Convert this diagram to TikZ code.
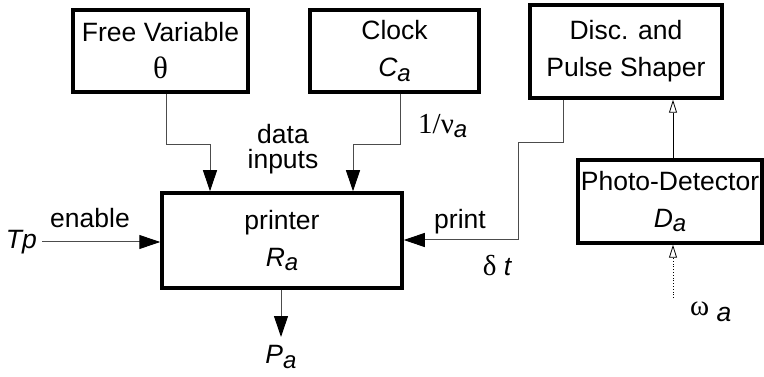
\documentclass[tikz,border=0pt]{standalone}
\usepackage{fontspec}
\setmainfont{Liberation Sans}
\newfontfamily\grk{Liberation Serif}
\usetikzlibrary{arrows.meta}
\newcommand\isub[2]{{\itshape #1\raisebox{-0.35ex}{\fontsize{24}{24}\selectfont #2}}}
\begin{document}
\begin{tikzpicture}[x=1pt,y=-1pt,
  box/.style={draw, line width=3.5pt, inner sep=0pt, align=center, font=\fontsize{26.5}{37}\selectfont},
  lbl/.style={inner sep=0pt, font=\fontsize{26.5}{30}\selectfont},
  conn/.style={draw=black!70, line width=1pt, -{Triangle[length=21pt,width=14pt,color=black]}},
  openarr/.style={draw=black, line width=0.8pt, -{Triangle[open,length=13pt,width=8pt]}}]
\useasboundingbox (0,0) rectangle (764,377);

\node[box, minimum width=175pt, minimum height=82pt] (fv) at (160.5,51) {Free Variable\\{\grk\fontsize{31}{37}\selectfont θ}};
\node[box, minimum width=169pt, minimum height=82pt] (clk) at (394.5,51) {Clock\\\isub{C}{a}};
\node[box, minimum width=192pt, minimum height=93pt] (disc) at (626,51.5) {Disc. and\\Pulse Shaper};
\node[box, minimum width=184pt, minimum height=83pt] (pd) at (670,201.5) {Photo-Detector\\\isub{D}{a}};
\node[box, minimum width=240pt, minimum height=95pt] (pr) at (282,240.5) {printer\\\isub{R}{a}};

\coordinate (fvd) at (210,145);
\coordinate (clkd) at (353,145);
\coordinate (pin) at (518,240);
\coordinate (pout) at (281,337);
\coordinate (tpe) at (42,242);
\coordinate (om) at (673,298);

\node[lbl, anchor=east] (tp) at (37,242) {\itshape Tp};
\node[lbl] (en) at (90,218) {enable};
\node[lbl] (da) at (283,134) {data};
\node[lbl] (inp) at (283,162) {inputs};
\node[lbl, anchor=west] (nu) at (418,126) {{\grk\fontsize{29}{30}\selectfont 1/ν}\raisebox{-0.3ex}{\fontsize{24}{24}\selectfont\itshape a}};
\node[lbl] (pt) at (460,222) {print};
\node[lbl] (dt) at (497,266) {{\grk\fontsize{29}{30}\selectfont δ} \itshape t};
\node[lbl] (pa) at (281,357) {\isub{P}{a}};
\node[lbl, anchor=west] (wa) at (690,312) {{\grk\fontsize{29}{30}\selectfont ω} \raisebox{-0.4ex}{\itshape a}};

\draw[conn] (fv.south -| 166,0) |- (fvd) -- (fvd |- pr.north);
\draw[conn] (clk.south -| 400,0) |- (clkd) -- (clkd |- pr.north);
\draw[conn] (tpe) -- (pr.west |- tpe);
\draw[conn] (disc.south -| 563,0) |- (518,143) -- (pin) -- (pr.east |- pin);
\draw[conn] (pr.south -| pout) -- (pout);
\draw[openarr] (pd.north -| 673,0) -- (disc.south -| 673,0);
\draw[openarr, dotted] (om) -- (pd.south -| om);
\end{tikzpicture}
\end{document}
